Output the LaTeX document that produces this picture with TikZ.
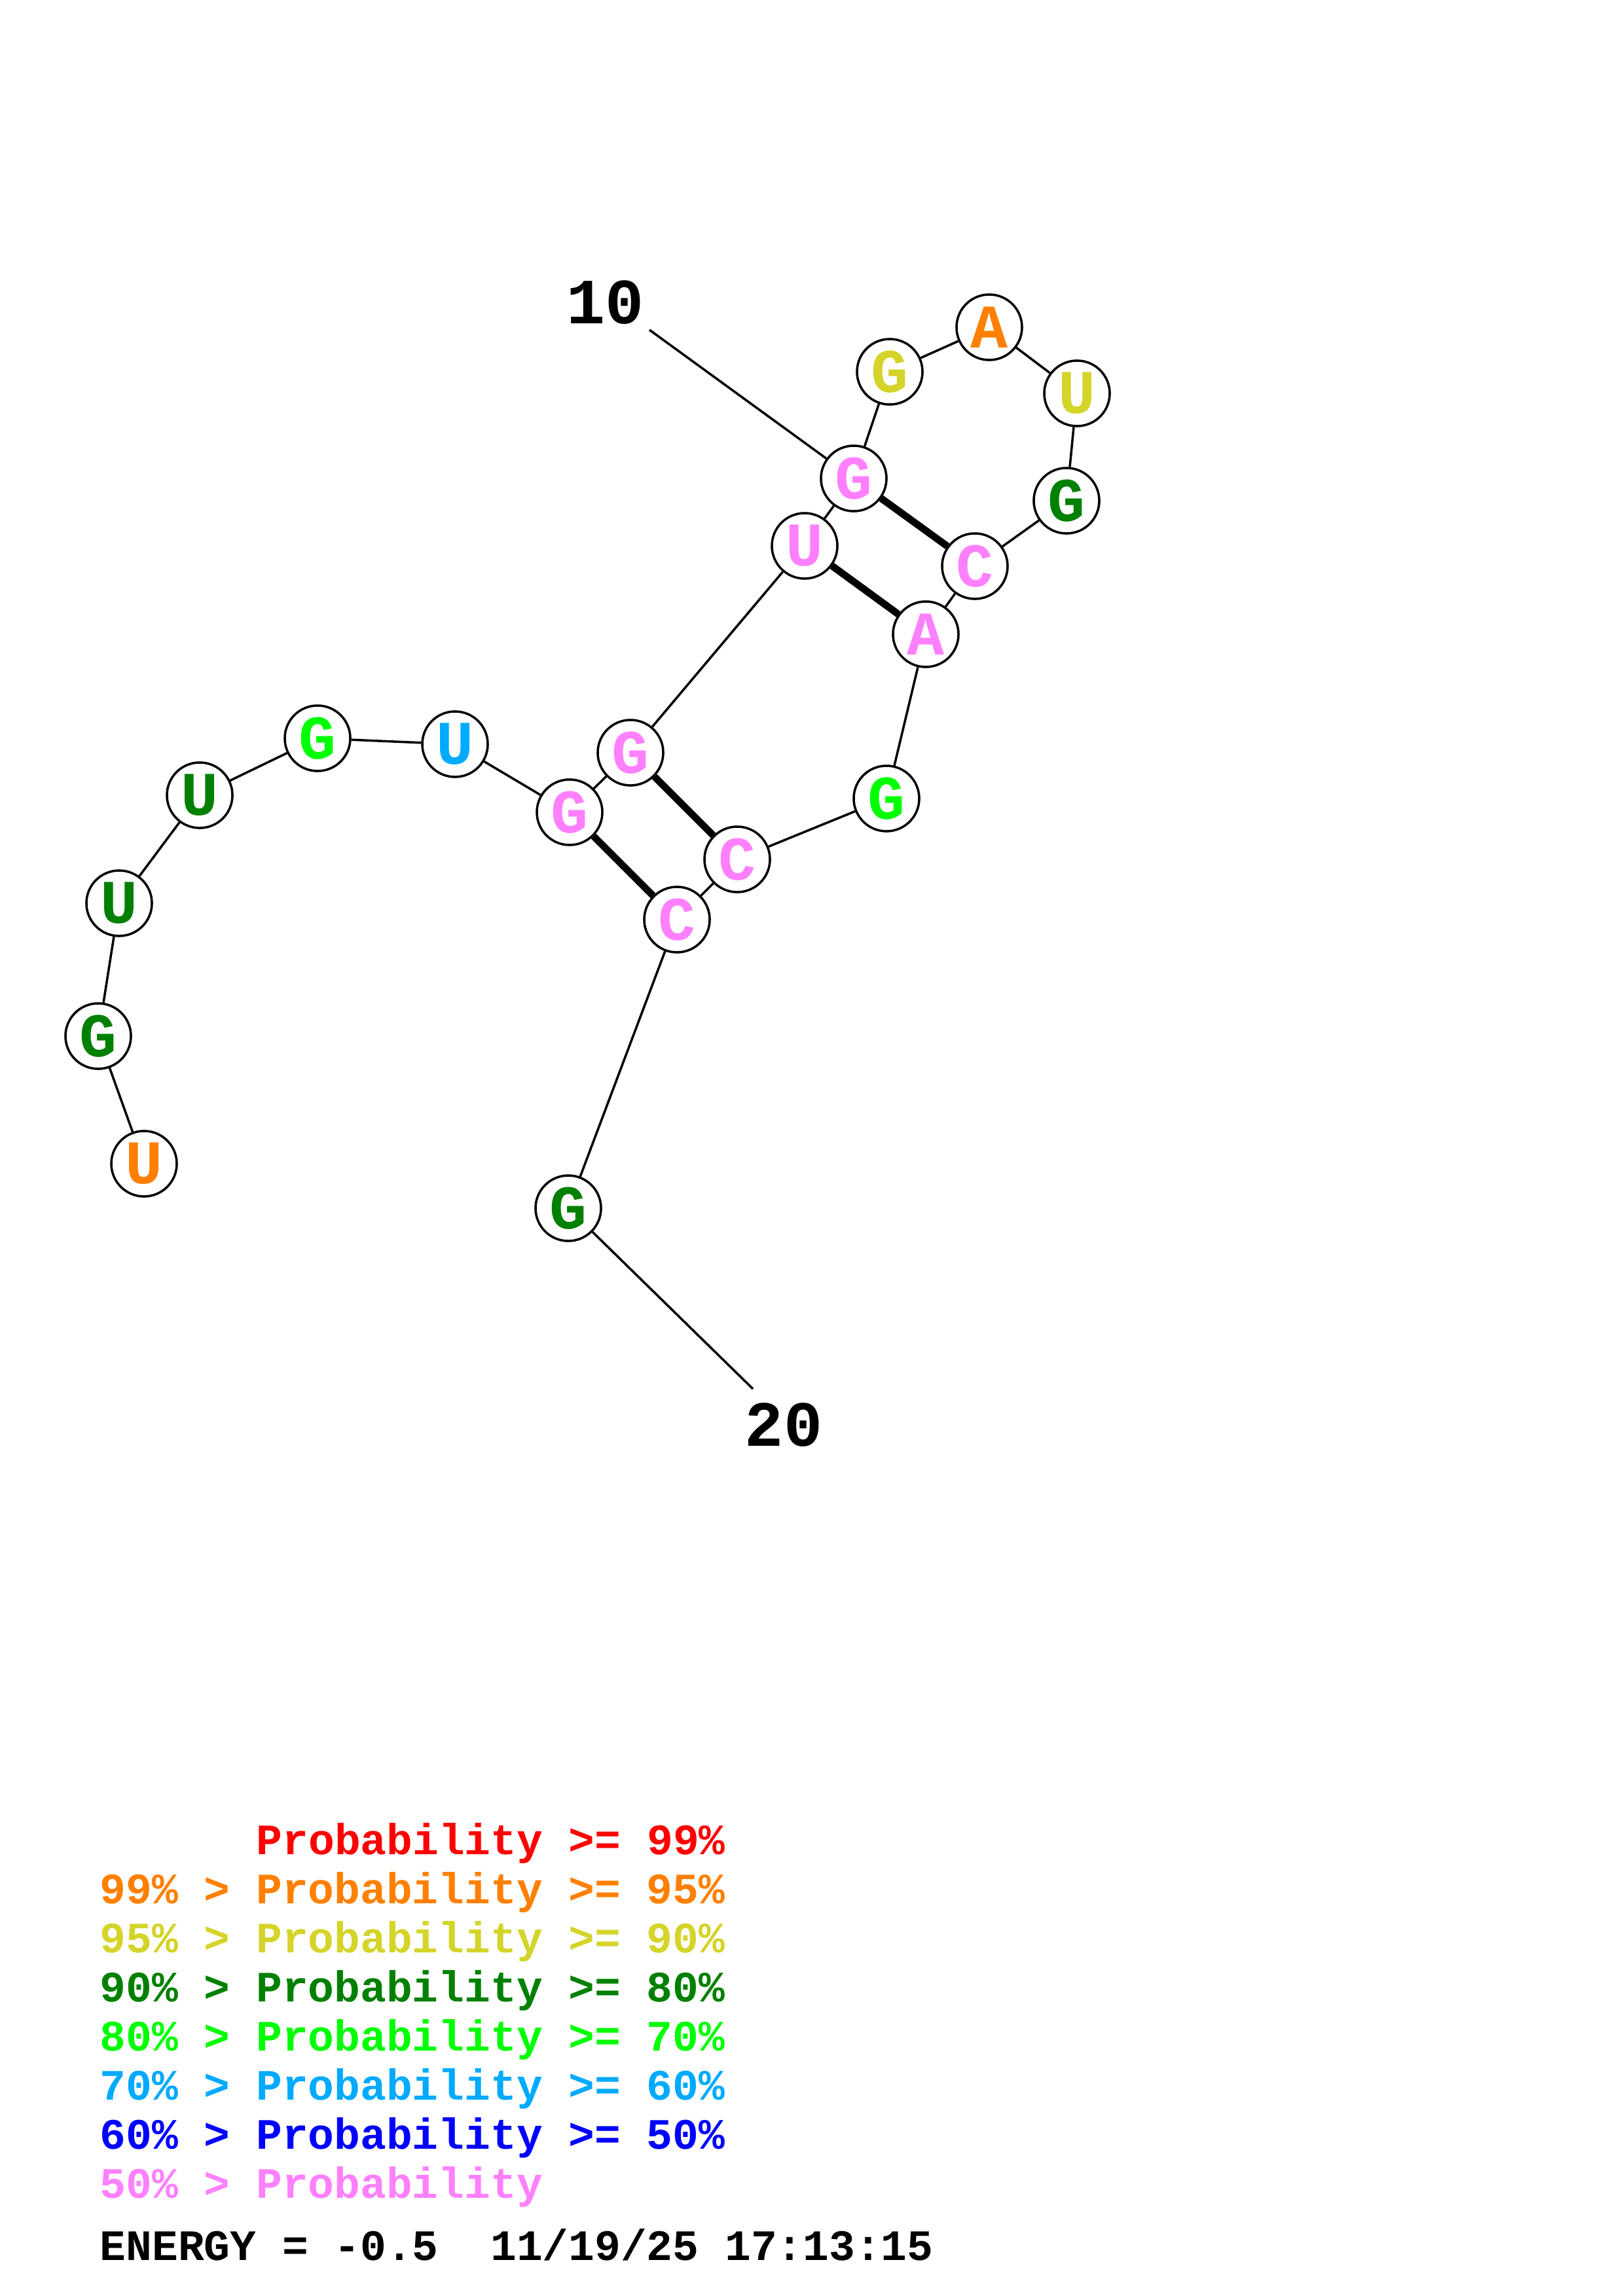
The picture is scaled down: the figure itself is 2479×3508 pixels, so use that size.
\documentclass[tikz,border=0pt]{standalone}
\usepackage{fontspec}
\setmonofont{Liberation Mono}
\usepackage{xcolor}
\usepackage{tikz}

\definecolor{pRed}{RGB}{255,0,0}
\definecolor{pOrange}{RGB}{255,128,0}
\definecolor{pYellow}{RGB}{212,212,42}
\definecolor{pDarkGreen}{RGB}{0,128,0}
\definecolor{pGreen}{RGB}{0,255,0}
\definecolor{pSky}{RGB}{0,170,255}
\definecolor{pBlue}{RGB}{0,0,255}
\definecolor{pPink}{RGB}{255,128,255}

\tikzset{
  base/.style={draw, circle, fill=white, line width=1pt, minimum size=1cm, inner sep=0pt,
    font=\ttfamily\bfseries\fontsize{27}{27}\selectfont},
  backbone/.style={line width=1pt},
  pair/.style={line width=3.1pt},
  legend/.style={anchor=base west, inner sep=0pt, font=\ttfamily\bfseries\fontsize{18.85}{19}\selectfont}
}

\begin{document}
\begin{tikzpicture}[x=0.01cm, y=-0.01cm]
            \useasboundingbox (0,0) rectangle (2479,3508);

            % bases
            \node (u1) [base, text=pOrange] at (220,1778) {U};
            \node (g2) [base, text=pDarkGreen] at (150,1583) {G};
            \node (u3) [base, text=pDarkGreen] at (182,1380) {U};
            \node (u4) [base, text=pDarkGreen] at (305,1215) {U};
            \node (g5) [base, text=pGreen] at (485,1128) {G};
            \node (u6) [base, text=pSky] at (695,1137) {U};
            \node (g7) [base, text=pPink] at (870,1241) {G};
            \node (g8) [base, text=pPink] at (963,1150) {G};
            \node (u9) [base, text=pPink] at (1229,834) {U};
            \node (g10) [base, text=pPink] at (1304,731) {G};
            \node (g11) [base, text=pYellow] at (1359,568) {G};
            \node (a12) [base, text=pOrange] at (1511,500) {A};
            \node (u13) [base, text=pYellow] at (1645,601) {U};
            \node (g14) [base, text=pDarkGreen] at (1629,765) {G};
            \node (c15) [base, text=pPink] at (1489,865) {C};
            \node (a16) [base, text=pPink] at (1414,969) {A};
            \node (g17) [base, text=pGreen] at (1354,1220) {G};
            \node (c18) [base, text=pPink] at (1126,1313) {C};
            \node (c19) [base, text=pPink] at (1034,1405) {C};
            \node (g20) [base, text=pDarkGreen] at (868,1846) {G};

            % backbone
            \foreach \a/\b in {u1/g2, g2/u3, u3/u4, u4/g5, g5/u6, u6/g7, g7/g8, g8/u9, u9/g10,
                               g10/g11, g11/a12, a12/u13, u13/g14, g14/c15, c15/a16, a16/g17,
                               g17/c18, c18/c19, c19/g20}
              \draw[backbone] (\a) -- (\b);

            % pairs
            \draw[pair] (g7) -- (c19);
            \draw[pair] (g8) -- (c18);
            \draw[pair] (u9) -- (a16);
            \draw[pair] (g10) -- (c15);

            % numbering
            \node (lab10) [font=\ttfamily\bfseries\fontsize{28}{28}\selectfont] at (925,462) {10};
            \coordinate (tick10) at (992,504);
            \draw[backbone] (tick10) -- (g10);
            \node (lab20) [font=\ttfamily\bfseries\fontsize{28}{28}\selectfont] at (1197,2177) {20};
            \coordinate (tick20) at (1150,2122);
            \draw[backbone] (g20) -- (tick20);

            % legend
            \node (leg1) [legend, text=pRed] at (391,2833) {Probability >= 99\%};
            \node (leg2) [legend, text=pOrange] at (152,2908) {99\% > Probability >= 95\%};
            \node (leg3) [legend, text=pYellow] at (152,2983) {95\% > Probability >= 90\%};
            \node (leg4) [legend, text=pDarkGreen] at (152,3058) {90\% > Probability >= 80\%};
            \node (leg5) [legend, text=pGreen] at (152,3133) {80\% > Probability >= 70\%};
            \node (leg6) [legend, text=pSky] at (152,3208) {70\% > Probability >= 60\%};
            \node (leg7) [legend, text=pBlue] at (152,3283) {60\% > Probability >= 50\%};
            \node (leg8) [legend, text=pPink] at (152,3358) {50\% > Probability};
            \node (energy) [legend] at (152,3453) {ENERGY = -0.5\ \ 11/19/25 17:13:15};
        \end{tikzpicture}
\end{document}
